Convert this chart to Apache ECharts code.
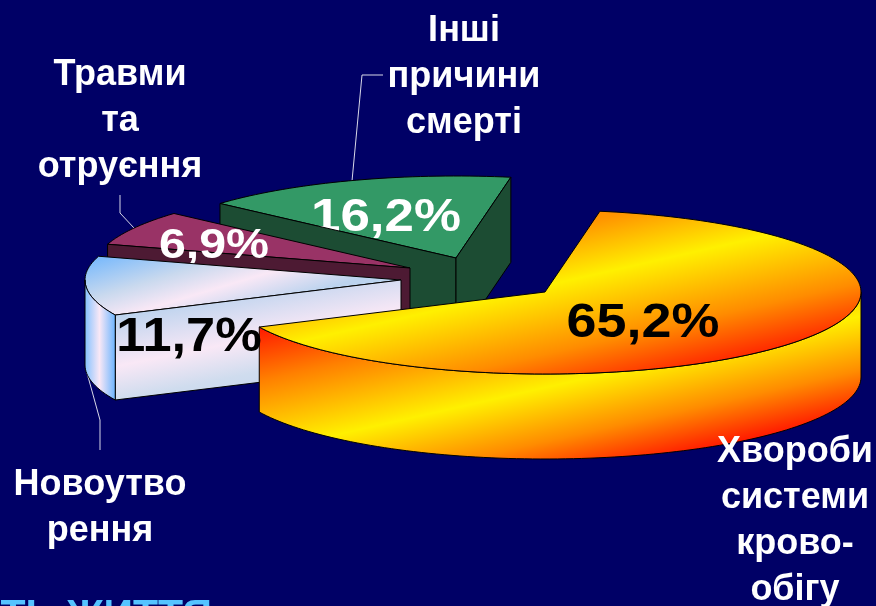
<!DOCTYPE html>
<html>
<head>
<meta charset="utf-8">
<script src="https://cdn.jsdelivr.net/npm/echarts@6/dist/echarts.min.js"></script>
<style>
  html, body { margin: 0; padding: 0; background: #000066; overflow: hidden; }
  #chart { width: 876px; height: 606px; }
</style>
</head>
<body>
<div id="chart"></div>
<script>
const categories = ['Хвороби\nсистеми\nкрово-\nобігу', 'Новоутво\nрення', 'Травми\nта\nотруєння', 'Інші\nпричини\nсмерті'];
const values = [65.2, 11.7, 6.9, 16.2];
const percentLabels = ['65,2%', '11,7%', '6,9%', '16,2%'];

// pie projection
const START_ANGLE = -80;
const RX = 316;
const RY = 82;
const DEPTH = 85;
const FONT = '"Liberation Sans", Arial, sans-serif';

function grad(x, y, x2, y2, stops) {
  return {
    type: 'linear', x, y, x2, y2, global: true,
    colorStops: stops.map(s => ({ offset: s[0], color: s[1] }))
  };
}

// explosion centre, colours and label placement for each slice, same order as values
// labelZ: offset inside the slice's paint order, 100+ puts the label over the whole pie
const sliceStyles = [
  {
    cx: 545, cy: 292, order: 3, label: [643, 323], labelColor: '#000', labelSize: 49, labelScale: 1.1, labelZ: 100,
    top: grad(598, 172, 649, 397, [[0, '#ff6a00'], [0.2, '#ff9500'], [0.43, '#fff000'], [0.72, '#ff8c00'], [1, '#ff0000']]),
    start: '#ff8000', end: '#ff8000',
    arc: grad(531, 253, 584, 487, [[0, '#ff0000'], [0.27, '#ff8000'], [0.56, '#fff000'], [0.78, '#ff8c00'], [1, '#ff0000']])
  },
  {
    cx: 401, cy: 280, order: 2, label: [189, 338], labelColor: '#000', labelSize: 48, labelScale: 1.09, labelZ: 100,
    top: grad(90, 250, 120, 350, [[0, '#66b2ff'], [0.45, '#c9d9ee'], [0.7, '#f9e8f6'], [1, '#bcd3ee']]),
    start: grad(240, 290, 262, 400, [[0, '#bcd3ee'], [0.45, '#f9e8f6'], [0.75, '#cfdcee'], [1, '#c5d6ee']]),
    end: '#c9d9ee',
    arc: grad(86, 0, 116, 0, [[0, '#8cc4ff'], [0.45, '#f9e8f6'], [1, '#66b2ff']])
  },
  {
    cx: 410, cy: 268, order: 1, label: [214, 246], labelColor: '#fff', labelSize: 42, labelScale: 1.15, labelZ: 5,
    top: '#993366', start: '#4d1a33', end: '#4d1a33', arc: '#4d1a33'
  },
  {
    cx: 456, cy: 258, order: 0, label: [386, 218], labelColor: '#fff', labelSize: 46, labelScale: 1.15, labelZ: 2,
    top: '#339966', start: '#1c4c33', end: '#1c4c33', arc: '#1c4c33'
  }
];

const outerLabels = [
  { x: 795, y: 429 },
  { x: 100, y: 462 },
  { x: 120, y: 52 },
  { x: 464, y: 8 }
];

const leaderLines = [
  [[352, 181], [362, 75], [383, 75]],
  [[134, 228], [120, 213], [120, 195]],
  [[87, 373], [100, 420], [100, 450]]
];

// slice angles come from the values
const sliceAngles = [];
let cursor = START_ANGLE;
values.forEach(v => {
  const sweep = v / 100 * 360;
  sliceAngles.push([cursor, cursor + sweep]);
  cursor += sweep;
});

function rimPoint(style, deg, drop) {
  const t = deg * Math.PI / 180;
  return [style.cx + RX * Math.cos(t), style.cy + RY * Math.sin(t) + (drop || 0)];
}

function arcPoints(style, from, to, drop) {
  const pts = [];
  const steps = Math.max(2, Math.ceil(Math.abs(to - from) / 1.5));
  for (let k = 0; k <= steps; k++) {
    pts.push(rimPoint(style, from + (to - from) * k / steps, drop));
  }
  return pts;
}

function face(points, fill, z2) {
  return {
    type: 'polygon',
    z2,
    shape: { points },
    style: { fill, stroke: '#000', lineWidth: 1, lineJoin: 'round' }
  };
}

function cutWall(style, deg, fill, z2) {
  const p = rimPoint(style, deg);
  const q = rimPoint(style, deg, DEPTH);
  return face([[style.cx, style.cy], p, q, [style.cx, style.cy + DEPTH]], fill, z2);
}

function renderSlice(params, api) {
  const i = api.value(0);
  const s = sliceStyles[i];
  const [a0, a1] = sliceAngles[i];
  const base = s.order * 10;
  const children = [];

  const top = [[s.cx, s.cy]].concat(arcPoints(s, a0, a1));
  children.push(face(top, s.top, base + 1));
  children.push({
    type: 'text',
    z2: s.labelZ >= 100 ? s.labelZ : base + s.labelZ,
    x: s.label[0],
    y: s.label[1],
    scaleX: s.labelScale,
    style: {
      text: percentLabels[i],
      x: 0, y: 0,
      align: 'center', verticalAlign: 'middle',
      fill: s.labelColor,
      font: 'bold ' + s.labelSize + 'px ' + FONT
    }
  });

  if (Math.cos(a0 * Math.PI / 180) < 0) children.push(cutWall(s, a0, s.start, base + 3));
  if (Math.cos(a1 * Math.PI / 180) > 0) children.push(cutWall(s, a1, s.end, base + 3));

  // outer wall: only the part of the rim that faces the viewer
  const from = Math.max(a0, 0);
  const to = Math.min(a1, 180);
  if (to > from) {
    const rim = arcPoints(s, from, to).concat(arcPoints(s, to, from, DEPTH));
    children.push(face(rim, s.arc, s.order === 3 ? base : base + 3));
  }
  return { type: 'group', children };
}

const chart = echarts.init(document.getElementById('chart'), null, { renderer: 'canvas' });

chart.setOption({
  backgroundColor: '#000066',
  animation: false,
  graphic: [
    ...leaderLines.map(points => ({
      type: 'polyline',
      silent: true,
      shape: { points },
      style: { stroke: '#d8d8e8', lineWidth: 1, fill: null }
    })),
    ...categories.map((name, i) => ({
      type: 'text',
      silent: true,
      z: 10,
      style: {
        text: name,
        x: outerLabels[i].x, y: outerLabels[i].y,
        align: 'center',
        fill: '#fff',
        lineHeight: 46,
        font: 'bold 36px ' + FONT
      }
    })),
    {
      type: 'text',
      silent: true,
      style: {
        text: 'ТЬ ЖИТТЯ',
        x: 212, y: 596,
        align: 'right',
        fill: '#55c4ff',
        font: 'bold 41px ' + FONT
      }
    }
  ],
  series: [{
    type: 'custom',
    coordinateSystem: 'none',
    silent: true,
    renderItem: renderSlice,
    data: values.map((v, i) => [i, v])
  }]
});
</script>
</body>
</html>
